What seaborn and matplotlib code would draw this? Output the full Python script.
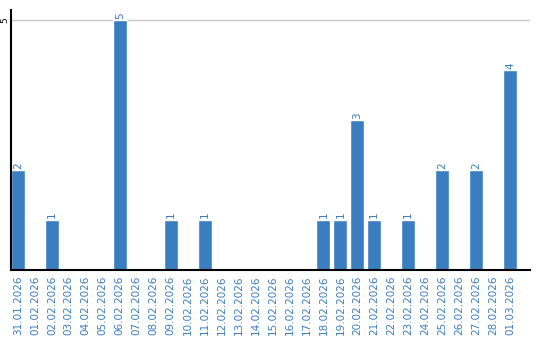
import matplotlib
matplotlib.use("Agg")
import matplotlib.pyplot as plt
import seaborn as sns
import pandas as pd

dates = ["31.01.2026", "01.02.2026", "02.02.2026", "03.02.2026", "04.02.2026",
         "05.02.2026", "06.02.2026", "07.02.2026", "08.02.2026", "09.02.2026",
         "10.02.2026", "11.02.2026", "12.02.2026", "13.02.2026", "14.02.2026",
         "15.02.2026", "16.02.2026", "17.02.2026", "18.02.2026", "19.02.2026",
         "20.02.2026", "21.02.2026", "22.02.2026", "23.02.2026", "24.02.2026",
         "25.02.2026", "26.02.2026", "27.02.2026", "28.02.2026", "01.03.2026"]
counts = [2, 0, 1, 0, 0, 0, 5, 0, 0, 1,
          0, 1, 0, 0, 0, 0, 0, 0, 1, 1,
          3, 1, 0, 1, 0, 2, 0, 2, 0, 4]

df = pd.DataFrame({"date": dates, "count": counts})

sns.set_theme(style="white")
plt.rcParams['font.family'] = ['DejaVu Sans']

BLUE = "#3b7dc1"
fig = plt.figure(figsize=(5.4, 3.4), dpi=100)
ax = fig.add_axes([11/540, 70/340, 519/540, 260/340])

sns.barplot(data=df, x="date", y="count", color=BLUE, width=0.82,
            saturation=1, ax=ax)

ax.set_xlim(-0.41, 30.18)
ax.set_ylim(0, 5.2)
ax.set_yticks([5])
ax.set_yticklabels(["5"], rotation=90, fontsize=6.5, color="black", va="center")
ax.yaxis.grid(True, color="#c8c8c8", linewidth=1)
ax.set_axisbelow(True)
ax.tick_params(axis="y", length=0, pad=1)
ax.tick_params(axis="x", length=0, pad=4)
ax.set_xticks(range(len(dates)))
ax.set_xticklabels(dates, rotation=90, fontsize=7.5, color=BLUE)
ax.set_xlabel("")
ax.set_ylabel("")

for s in ["top", "right"]:
    ax.spines[s].set_visible(False)
for s in ["left", "bottom"]:
    ax.spines[s].set_color("black")
    ax.spines[s].set_linewidth(1.5)

for i, v in enumerate(counts):
    if v > 0:
        ax.text(i, v + 0.03, str(v), rotation=90, ha="center", va="bottom",
                fontsize=7.5, color=BLUE)

fig.savefig("out.png", dpi=100)
